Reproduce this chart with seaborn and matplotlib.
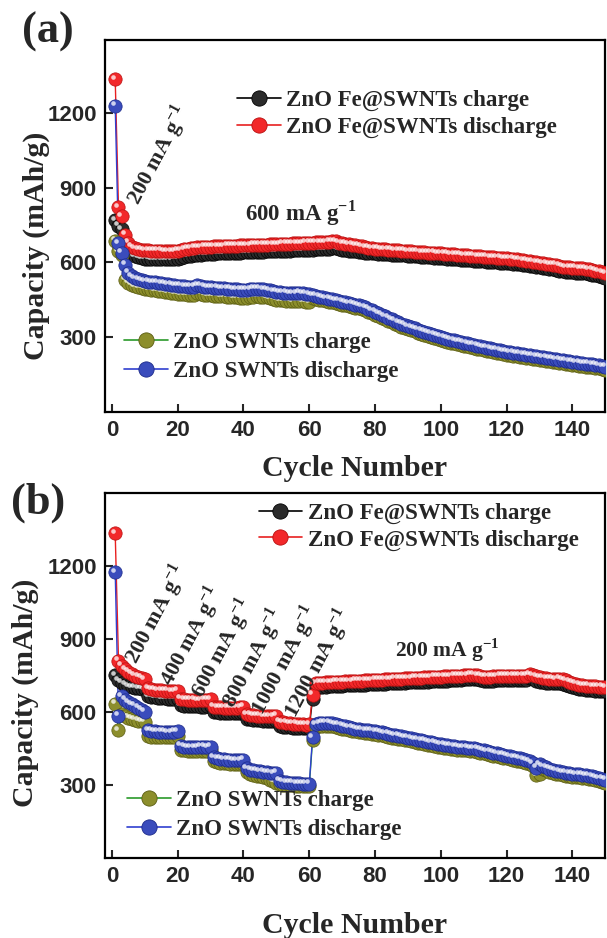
import numpy as np
import pandas as pd
import seaborn as sns
import matplotlib
matplotlib.use("Agg")
import matplotlib.pyplot as plt
from matplotlib.lines import Line2D
from matplotlib.transforms import ScaledTranslation

# ---------------- data ----------------
cycles = list(range(1, 151))

a_fe_discharge = [
    1335, 821, 785, 712, 680, 664, 657, 653, 651, 650,
    649, 648, 648, 647, 647, 646, 646, 645, 646, 647,
    650, 653, 656, 658, 660, 661, 662, 663, 664, 664,
    665, 665, 666, 666, 667, 667, 668, 668, 669, 669,
    670, 670, 671, 671, 672, 672, 672, 673, 673, 674,
    674, 675, 676, 676, 677, 677, 678, 678, 679, 680,
    680, 681, 681, 682, 682, 683, 686, 685, 680, 677,
    675, 673, 671, 669, 668, 666, 662, 660, 658, 656,
    655, 654, 653, 652, 651, 650, 649, 648, 647, 646,
    645, 644, 643, 642, 641, 640, 639, 638, 637, 636,
    635, 634, 633, 632, 631, 630, 629, 628, 627, 626,
    625, 624, 623, 622, 621, 620, 619, 618, 617, 616,
    615, 614, 612, 611, 609, 607, 605, 603, 601, 599,
    597, 595, 593, 591, 590, 586, 583, 581, 580, 579,
    578, 577, 576, 575, 573, 570, 567, 564, 560, 556]

a_fe_charge = [
    770, 748, 733, 690, 655, 635, 625, 620, 617, 615,
    614, 613, 613, 612, 612, 612, 613, 613, 614, 615,
    618, 622, 625, 627, 629, 630, 631, 632, 633, 634,
    635, 636, 636, 637, 638, 638, 639, 640, 640, 641,
    642, 642, 643, 643, 644, 644, 645, 645, 646, 646,
    647, 647, 648, 648, 649, 649, 650, 650, 651, 652,
    652, 653, 653, 654, 654, 655, 658, 657, 654, 652,
    650, 648, 646, 645, 644, 642, 640, 638, 637, 636,
    635, 634, 633, 632, 631, 630, 630, 629, 628, 627,
    626, 625, 624, 623, 622, 621, 620, 619, 618, 617,
    616, 615, 614, 613, 612, 611, 610, 609, 608, 607,
    606, 605, 604, 603, 602, 601, 600, 599, 598, 597,
    596, 595, 593, 592, 590, 588, 586, 584, 582, 580,
    578, 576, 574, 572, 571, 567, 564, 562, 561, 560,
    559, 558, 557, 556, 554, 551, 548, 545, 541, 537]

a_sw_discharge = [
    1228, 678, 640, 590, 558, 545, 537, 532, 528, 525,
    523, 521, 520, 518, 516, 514, 512, 510, 509, 507,
    506, 505, 503, 502, 503, 508, 506, 503, 501, 500,
    499, 498, 497, 496, 495, 494, 493, 492, 491, 490,
    490, 492, 494, 495, 494, 493, 491, 488, 485, 482,
    480, 479, 478, 477, 476, 477, 478, 476, 474, 472,
    469, 466, 463, 460, 457, 455, 452, 449, 446, 443,
    440, 437, 434, 431, 428, 424, 420, 415, 409, 403,
    397, 391, 385, 379, 373, 367, 361, 355, 350, 345,
    340, 335, 330, 325, 321, 317, 313, 309, 305, 301,
    297, 293, 290, 287, 284, 281, 278, 275, 272, 269,
    266, 263, 260, 257, 255, 252, 250, 247, 244, 241,
    239, 237, 235, 233, 231, 229, 227, 225, 223, 221,
    219, 217, 215, 213, 211, 209, 207, 205, 203, 201,
    199, 197, 195, 194, 193, 191, 189, 187, 184, 181]

a_sw_charge = [
    688, 645, 628, 530, 518, 510, 505, 501, 498, 495,
    493, 491, 489, 487, 485, 483, 481, 479, 477, 475,
    473, 472, 471, 470, 471, 476, 474, 471, 469, 468,
    467, 466, 465, 464, 463, 462, 461, 460, 459, 458,
    459, 461, 463, 464, 463, 462, 460, 457, 454, 451,
    449, 448, 447, 446, 445, 446, 447, 445, 443, 441,
    457, 454, 451, 448, 445, 443, 440, 437, 434, 431,
    428, 425, 422, 419, 416, 412, 408, 403, 397, 391,
    385, 379, 373, 367, 361, 355, 349, 343, 338, 333,
    328, 323, 318, 313, 309, 305, 301, 297, 293, 289,
    285, 281, 278, 275, 272, 269, 266, 263, 260, 257,
    254, 251, 248, 245, 243, 240, 238, 235, 232, 229,
    227, 225, 223, 221, 219, 217, 215, 213, 211, 209,
    207, 205, 203, 201, 199, 197, 195, 193, 191, 189,
    187, 185, 183, 182, 181, 179, 177, 175, 172, 169]

b_fe_discharge = [
    1334, 811, 790, 775, 765, 757, 750, 745, 740, 735,
    697, 694, 692, 690, 689, 688, 687, 686, 686, 688,
    655, 652, 651, 650, 650, 649, 649, 650, 651, 653,
    622, 620, 619, 618, 618, 617, 617, 618, 619, 621,
    590, 588, 586, 585, 584, 583, 582, 582, 583, 585,
    560, 557, 555, 553, 552, 551, 550, 549, 548, 549,
    670, 718, 720, 721, 722, 722, 723, 724, 724, 725,
    726, 726, 727, 728, 728, 729, 730, 731, 731, 732,
    733, 733, 734, 735, 735, 736, 737, 737, 738, 739,
    739, 740, 741, 741, 742, 742, 743, 744, 744, 745,
    746, 746, 747, 748, 749, 750, 751, 752, 753, 753,
    752, 748, 745, 744, 745, 746, 747, 748, 748, 749,
    749, 750, 750, 749, 748, 750, 755, 752, 746, 742,
    740, 738, 737, 736, 735, 736, 734, 730, 725, 720,
    716, 713, 710, 708, 707, 706, 705, 704, 703, 702]

b_fe_charge = [
    752, 730, 720, 712, 706, 702, 699, 697, 695, 694,
    665, 662, 660, 658, 657, 656, 655, 655, 654, 655,
    628, 626, 625, 624, 623, 623, 622, 622, 623, 624,
    600, 598, 597, 596, 595, 595, 594, 594, 595, 596,
    572, 570, 568, 567, 566, 565, 565, 564, 564, 565,
    542, 540, 538, 537, 536, 535, 535, 534, 534, 535,
    655, 700, 702, 703, 704, 705, 705, 706, 707, 707,
    709, 709, 710, 711, 711, 712, 713, 714, 714, 715,
    716, 716, 717, 718, 718, 719, 720, 720, 721, 722,
    722, 723, 724, 724, 725, 725, 726, 727, 727, 728,
    729, 729, 730, 731, 732, 733, 734, 735, 736, 736,
    735, 731, 728, 727, 728, 729, 730, 731, 731, 732,
    732, 733, 733, 732, 731, 733, 738, 735, 729, 725,
    723, 721, 720, 719, 718, 719, 717, 713, 708, 703,
    699, 696, 693, 691, 690, 689, 688, 687, 686, 685]

b_sw_discharge = [
    1175, 585, 665, 650, 640, 632, 625, 618, 610, 602,
    525, 522, 520, 519, 518, 518, 517, 517, 518, 520,
    462, 458, 456, 455, 455, 456, 457, 457, 456, 458,
    415, 410, 407, 405, 404, 403, 402, 402, 401, 403,
    368, 363, 360, 358, 356, 354, 352, 350, 348, 350,
    318, 314, 312, 310, 309, 308, 307, 306, 305, 305,
    497, 550, 553, 555, 556, 555, 553, 550, 547, 544,
    541, 538, 535, 532, 530, 528, 526, 524, 522, 520,
    518, 516, 513, 510, 507, 505, 502, 500, 497, 495,
    492, 489, 486, 484, 481, 478, 476, 473, 470, 468,
    465, 463, 461, 459, 457, 456, 455, 454, 452, 450,
    448, 445, 442, 439, 436, 433, 430, 427, 424, 421,
    418, 415, 412, 409, 406, 402, 398, 390, 370, 385,
    378, 372, 367, 363, 359, 356, 353, 350, 348, 346,
    345, 344, 342, 340, 338, 335, 332, 328, 325, 322]

b_sw_charge = [
    633, 525, 590, 582, 576, 572, 568, 565, 562, 560,
    500, 498, 497, 497, 496, 496, 496, 497, 498, 500,
    445, 442, 440, 439, 439, 440, 441, 441, 440, 442,
    400, 395, 392, 390, 389, 388, 387, 387, 386, 388,
    352, 347, 343, 339, 335, 331, 327, 322, 316, 310,
    305, 302, 300, 299, 298, 297, 296, 296, 295, 296,
    485, 538, 541, 543, 544, 543, 541, 538, 535, 532,
    529, 526, 523, 520, 518, 516, 514, 512, 510, 508,
    506, 504, 501, 498, 495, 493, 490, 488, 485, 483,
    480, 477, 474, 472, 469, 466, 464, 461, 458, 456,
    453, 451, 449, 447, 445, 444, 443, 442, 440, 438,
    436, 433, 430, 427, 424, 421, 418, 415, 412, 409,
    406, 403, 400, 397, 394, 390, 386, 378, 340, 345,
    366, 360, 355, 351, 347, 344, 341, 338, 336, 334,
    333, 332, 330, 328, 326, 323, 320, 316, 313, 310]

labels = ["ZnO Fe@SWNTs charge", "ZnO Fe@SWNTs discharge",
          "ZnO SWNTs charge", "ZnO SWNTs discharge"]
xticks = [0, 20, 40, 60, 80, 100, 120, 140]
yticks = [300, 600, 900, 1200]

a_rate_label = "200 mA g$^{\\mathregular{-1}}$"
a_main_label = "600 mA g$^{\\mathregular{-1}}$"
b_rate_labels = ["200 mA g$^{\\mathregular{-1}}$", "400 mA g$^{\\mathregular{-1}}$",
                 "600 mA g$^{\\mathregular{-1}}$", "800 mA g$^{\\mathregular{-1}}$",
                 "1000 mA g$^{\\mathregular{-1}}$", "1200 mA g$^{\\mathregular{-1}}$"]
b_main_label = "200 mA g$^{\\mathregular{-1}}$"

# ---------------- style ----------------
sns.set_theme(style="ticks")
plt.rcParams["font.family"] = ["Liberation Serif", "DejaVu Serif"]
plt.rcParams["font.weight"] = "bold"
plt.rcParams["axes.linewidth"] = 1.6

SERIF = ["Liberation Serif", "DejaVu Serif"]
SANS = ["Liberation Sans", "DejaVu Sans"]

styles = [
    dict(face="#2b2b2b", edge="#000000", line="#000000"),   # Fe charge
    dict(face="#f2282a", edge="#b81010", line="#e82020"),   # Fe discharge
    dict(face="#8c8e2c", edge="#5a5c12", line="#2a9a2a"),   # SW charge
    dict(face="#3a4cbc", edge="#1c2a8a", line="#3040d0"),   # SW discharge
]

fig = plt.figure(figsize=(6.07, 9.38), dpi=100)
ax_a = fig.add_axes([0.1730, 0.5608, 0.8237, 0.3966])
ax_b = fig.add_axes([0.1730, 0.0853, 0.8237, 0.3891])

hl_offset = ScaledTranslation(-1.8 / 72, 1.8 / 72, fig.dpi_scale_trans)


def draw_series(ax, y, st):
    df = pd.DataFrame({"cycle": cycles, "cap": y})
    sns.lineplot(data=df, x="cycle", y="cap", ax=ax, color=st["line"],
                 lw=1.0, legend=False, sort=False)
    sns.scatterplot(data=df, x="cycle", y="cap", ax=ax, s=92,
                    color=st["face"], edgecolor=st["edge"], linewidth=0.5,
                    legend=False, zorder=3)
    sns.scatterplot(data=df, x="cycle", y="cap", ax=ax, s=11,
                    color="white", alpha=0.75, linewidth=0, legend=False,
                    zorder=3, transform=ax.transData + hl_offset)


def style_axes(ax, ylim, ylabel_xy, xlabel_xy):
    ax.set_xlim(-2.1, 149.9)
    ax.set_ylim(*ylim)
    ax.set_xticks(xticks)
    ax.set_yticks(yticks)
    for s in ax.spines.values():
        s.set_visible(True)
        s.set_linewidth(1.6)
        s.set_color("black")
    ax.tick_params(direction="in", length=6, width=1.5, pad=6,
                   top=False, right=False)
    for lab in ax.get_xticklabels() + ax.get_yticklabels():
        lab.set_fontfamily(SANS)
        lab.set_fontweight("bold")
        lab.set_fontsize(16)
    ax.set_xlabel("Cycle Number", fontsize=21.5, fontweight="bold", family=SERIF)
    ax.set_ylabel("Capacity (mAh/g)", fontsize=21.5, fontweight="bold", family=SERIF)
    ax.xaxis.set_label_coords(*xlabel_xy)
    ax.yaxis.set_label_coords(*ylabel_xy)


def handle(st):
    return Line2D([0], [0], color=st["line"], lw=1.2, marker="o", markersize=11,
                  markerfacecolor=st["face"], markeredgecolor=st["edge"],
                  markeredgewidth=0.6)


def add_legends(ax, upper_anchor, lower_anchor, fs):
    h = [handle(s) for s in styles]
    leg1 = ax.legend(h[:2], labels[:2], loc="upper left", bbox_to_anchor=upper_anchor,
                     frameon=False, handlelength=1.9, handletextpad=0.25,
                     labelspacing=0.25, borderaxespad=0,
                     prop=dict(family=SERIF, weight="bold", size=fs))
    ax.add_artist(leg1)
    ax.legend(h[2:], labels[2:], loc="upper left", bbox_to_anchor=lower_anchor,
              frameon=False, handlelength=1.9, handletextpad=0.25,
              labelspacing=0.35, borderaxespad=0,
              prop=dict(family=SERIF, weight="bold", size=fs))


series_a = [a_fe_charge, a_fe_discharge, a_sw_charge, a_sw_discharge]
series_b = [b_fe_charge, b_fe_discharge, b_sw_charge, b_sw_discharge]
for y, st in zip(series_a, styles):
    draw_series(ax_a, y, st)
for y, st in zip(series_b, styles):
    draw_series(ax_b, y, st)

style_axes(ax_a, (0, 1493), (-0.11, 0.446), (0.5, -0.115))
style_axes(ax_b, (0, 1500), (-0.132, 0.452), (0.5, -0.148))

add_legends(ax_a, (0.246, 0.89), (0.020, 0.241), 16.5)
add_legends(ax_b, (0.289, 0.999), (0.026, 0.212), 16.5)

# annotations
txt = dict(family=SERIF, weight="bold", ha="center", va="center",
           rotation_mode="anchor")
ax_a.text(14, 1030, a_rate_label, rotation=62, fontsize=16, **txt)
ax_a.text(57.5, 798, a_main_label, rotation=0, fontsize=16.5, **txt)

b_pos = [(13.5, 1000), (24, 910), (33.5, 860), (43, 820), (52.5, 812), (62.5, 802)]
for (x, y), t in zip(b_pos, b_rate_labels):
    ax_b.text(x, y, t, rotation=62, fontsize=16, **txt)
ax_b.text(102, 852, b_main_label, rotation=0, fontsize=15.5, **txt)

fig.text(48 / 607, 1 - 32 / 938, "(a)", fontsize=32, fontweight="bold",
         family=SERIF, ha="center", va="center")
fig.text(38 / 607, 1 - 503 / 938, "(b)", fontsize=32, fontweight="bold",
         family=SERIF, ha="center", va="center")

fig.savefig("out.png", dpi=100)
